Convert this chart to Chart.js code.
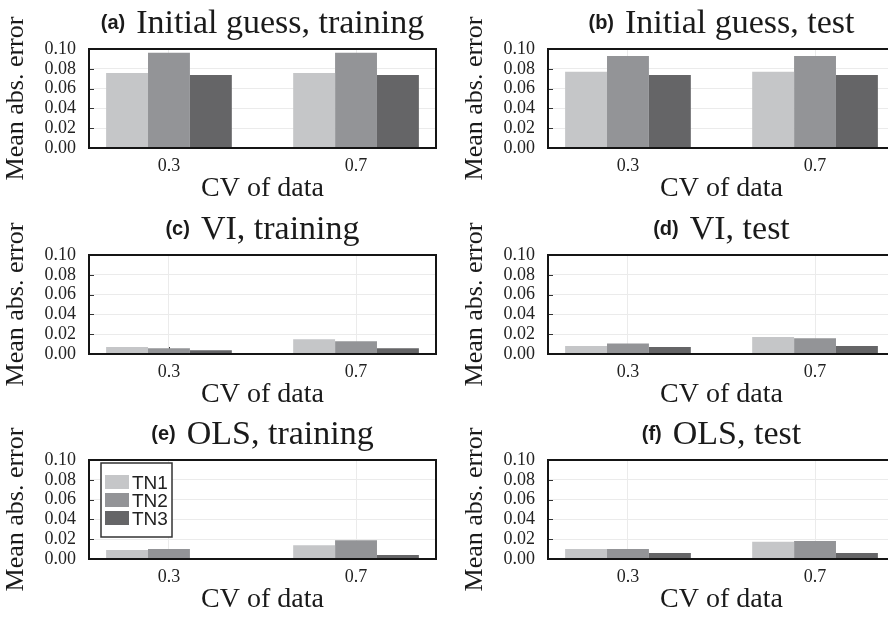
<!DOCTYPE html>
<html>
<head>
<meta charset="utf-8">
<script src="https://cdn.jsdelivr.net/npm/chart.js@4.4.1/dist/chart.umd.min.js"></script>
<style>
  html, body { margin: 0; padding: 0; background: #fff; }
  body { width: 888px; height: 617px; overflow: hidden; position: relative; }
  .panel { position: absolute; width: 444px; height: 206px; }
  .panel canvas { position: absolute; left: 0; top: 0; }
  .ttl { position: absolute; left: 89px; width: 347px; top: 3px; text-align: center; white-space: nowrap;
         line-height: 34px; color: #1a1a1a; }
  .ttl b { font: bold 20px "Liberation Sans", Arial, sans-serif; position: relative; top: -4px; margin-right: 11px; }
  .ttl span { font: 34px "Liberation Serif", "Times New Roman", serif; }
</style>
</head>
<body>
<script>
// x categories (CV of data) and their tick labels
const CV_VALUES = [0.3, 0.7];
const CV_LABELS = ['0.3', '0.7'];
const SERIES = ['TN1', 'TN2', 'TN3'];
const GREYS = ['#c5c6c8', '#939497', '#656567'];

// mean absolute error, one row per series (TN1, TN2, TN3), columns = CV 0.3, 0.7
const initTrain = [[0.0757, 0.0757], [0.0963, 0.0963], [0.0737, 0.0737]];
const initTest  = [[0.0770, 0.0770], [0.0930, 0.0930], [0.0737, 0.0737]];
const viTrain   = [[0.0070, 0.0148], [0.0057, 0.0128], [0.0037, 0.0057]];
const viTest    = [[0.0080, 0.0171], [0.0107, 0.0160], [0.0070, 0.0080]];
const olsTrain  = [[0.0090, 0.0140], [0.0100, 0.0190], [0.0010, 0.0040]];
const olsTest   = [[0.0100, 0.0173], [0.0100, 0.0183], [0.0060, 0.0060]];

const PANELS = [
  { tag: '(a)', title: 'Initial guess, training', vals: initTrain, left: 0,   top: 0 },
  { tag: '(b)', title: 'Initial guess, test',     vals: initTest,  left: 459, top: 0 },
  { tag: '(c)', title: 'VI, training',            vals: viTrain,   left: 0,   top: 206 },
  { tag: '(d)', title: 'VI, test',                vals: viTest,    left: 459, top: 206 },
  { tag: '(e)', title: 'OLS, training',           vals: olsTrain,  left: 0,   top: 411, legend: true },
  { tag: '(f)', title: 'OLS, test',               vals: olsTest,   left: 459, top: 411 },
];

const SERIF = '"Liberation Serif", "Times New Roman", serif';
const SANS = '"Liberation Sans", Arial, sans-serif';

// frame around the plot + short inner ticks
const framePlugin = {
  id: 'frame',
  beforeDatasetsDraw(chart) {
    const { ctx, chartArea: a, scales: { x, y } } = chart;
    ctx.save();
    ctx.strokeStyle = '#333';
    ctx.lineWidth = 1;
    y.ticks.forEach((t) => {
      const py = Math.round(y.getPixelForValue(t.value)) + 0.5;
      ctx.beginPath(); ctx.moveTo(a.left, py); ctx.lineTo(a.left + 5, py); ctx.stroke();
    });
    x.ticks.forEach((t) => {
      const px = Math.round(x.getPixelForValue(t.value)) + 0.5;
      ctx.beginPath(); ctx.moveTo(px, a.bottom); ctx.lineTo(px, a.bottom - 7); ctx.stroke();
    });
    ctx.restore();
  },
  afterDatasetsDraw(chart) {
    const { ctx, chartArea: a } = chart;
    ctx.save();
    ctx.strokeStyle = '#151515';
    ctx.lineWidth = 2;
    ctx.strokeRect(a.left, a.top, a.right - a.left, a.bottom - a.top);
    ctx.restore();
  },
};

// boxed legend drawn inside the plot, top-left
const insideLegend = {
  id: 'insideLegend',
  afterDraw(chart, args, opts) {
    if (!opts.show) return;
    const { ctx, chartArea: a } = chart;
    const bx = a.left + 12, by = a.top + 3, bw = 71, bh = 74;
    ctx.save();
    ctx.fillStyle = '#fff';
    ctx.fillRect(bx, by, bw, bh);
    ctx.strokeStyle = '#333';
    ctx.lineWidth = 1.5;
    ctx.strokeRect(bx, by, bw, bh);
    ctx.font = '19px ' + SANS;
    ctx.textBaseline = 'alphabetic';
    chart.data.datasets.forEach((ds, i) => {
      const sy = by + 12 + i * 18;
      ctx.fillStyle = ds.backgroundColor;
      ctx.fillRect(bx + 4, sy, 24, 14);
      ctx.fillStyle = '#222';
      ctx.fillText(ds.label, bx + 31, sy + 14);
    });
    ctx.restore();
  },
};

PANELS.forEach((p) => {
  const wrap = document.createElement('div');
  wrap.className = 'panel';
  wrap.style.left = p.left + 'px';
  wrap.style.top = p.top + 'px';
  const canvas = document.createElement('canvas');
  canvas.width = 444;
  canvas.height = 206;
  wrap.appendChild(canvas);
  const ttl = document.createElement('div');
  ttl.className = 'ttl';
  ttl.innerHTML = '<b>' + p.tag + '</b><span>' + p.title + '</span>';
  wrap.appendChild(ttl);
  document.body.appendChild(wrap);

  new Chart(canvas, {
    type: 'bar',
    data: {
      labels: CV_VALUES,
      datasets: SERIES.map((name, i) => ({
        label: name,
        data: p.vals[i],
        backgroundColor: GREYS[i],
        borderWidth: 0,
        categoryPercentage: 0.672,
        barPercentage: 1,
      })),
    },
    options: {
      responsive: false,
      animation: false,
      devicePixelRatio: 1,
      layout: { padding: { top: 49, left: 1, right: 8, bottom: 1 } },
      plugins: {
        legend: { display: false },
        tooltip: { enabled: false },
        insideLegend: { show: !!p.legend },
      },
      scales: {
        x: {
          type: 'linear',
          offset: false,
          min: 0.129,
          max: 0.871,
          afterBuildTicks: (s) => { s.ticks = CV_VALUES.map((v) => ({ value: v })); },
          afterFit: (s) => { s.height = 57; },
          grid: { offset: false, color: '#ebebeb', drawTicks: false },
          border: { display: false },
          ticks: { padding: 7, autoSkip: false, maxRotation: 0, color: '#222', font: { family: SERIF, size: 18 }, callback: (v, i) => CV_LABELS[i] },
          title: { display: true, text: 'CV of data', color: '#1a1a1a', padding: 0, font: { family: SERIF, size: 28 } },
        },
        y: {
          min: 0,
          max: 0.1,
          afterFit: (s) => { s.width = 88; },
          grid: { color: '#ebebeb', drawTicks: false },
          border: { display: false },
          ticks: { stepSize: 0.02, autoSkip: false, padding: 13, color: '#222', font: { family: SERIF, size: 18 }, callback: (v) => v.toFixed(2) },
          title: { display: true, text: 'Mean abs. error', color: '#1a1a1a', padding: 0, font: { family: SERIF, size: 26 } },
        },
      },
    },
    plugins: [framePlugin, insideLegend],
  });
});
</script>
</body>
</html>
